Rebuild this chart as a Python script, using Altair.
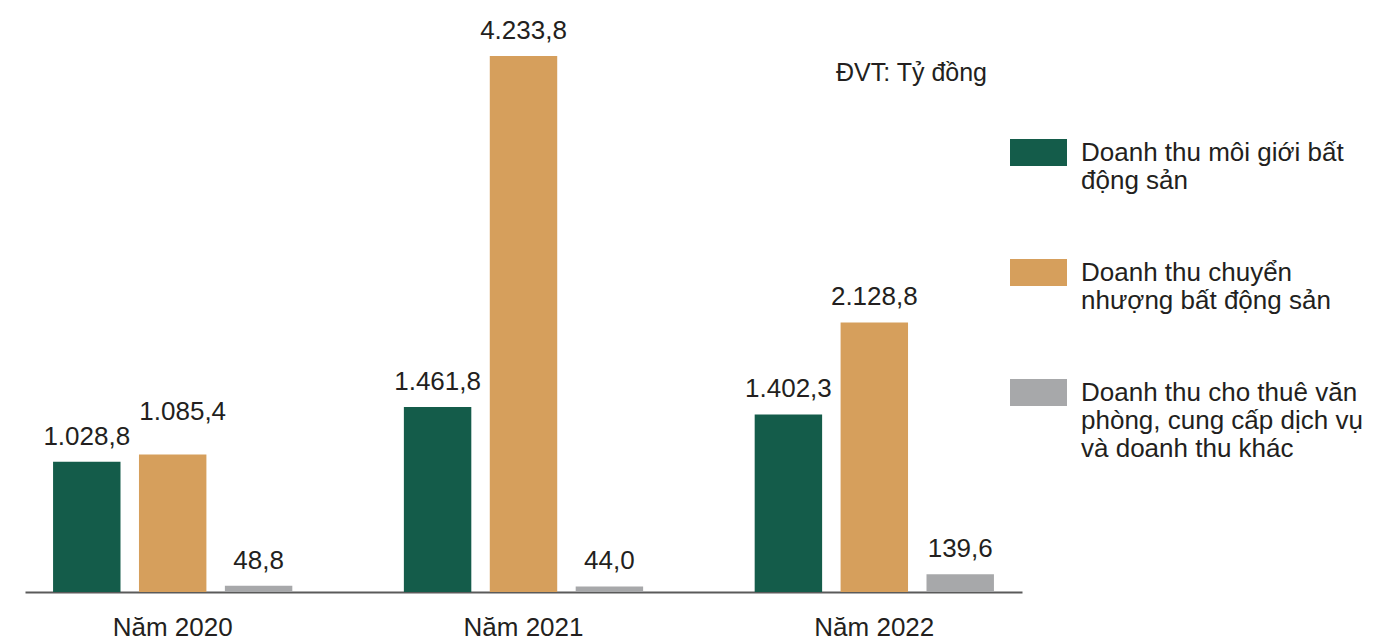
import altair as alt
import pandas as pd

years = ["Năm 2020", "Năm 2021", "Năm 2022"]
series = [
    "Doanh thu môi giới bất\nđộng sản",
    "Doanh thu chuyển\nnhượng bất động sản",
    "Doanh thu cho thuê văn\nphòng, cung cấp dịch vụ\nvà doanh thu khác",
]
moi_gioi = [1028.8, 1461.8, 1402.3]
chuyen_nhuong = [1085.4, 4233.8, 2128.8]
cho_thue = [48.8, 44.0, 139.6]
colors = ["#145c4a", "#d69f5c", "#a7a8aa"]
unit_note = "ĐVT: Tỷ đồng"

FONT = "Liberation Sans"
TEXT_COLOR = "#231f20"


def vn_format(v):
    s = f"{v:,.1f}"
    return s.replace(",", "X").replace(".", ",").replace("X", ".")


rows = []
for vals, name in zip([moi_gioi, chuyen_nhuong, cho_thue], series):
    for yr, v in zip(years, vals):
        rows.append({"year": yr, "series": name, "value": v, "label": vn_format(v)})
df = pd.DataFrame(rows)

x_enc = alt.X(
    "year:N",
    sort=years,
    scale=alt.Scale(paddingInner=0.318, paddingOuter=0.08),
    axis=alt.Axis(
        title=None,
        labelAngle=0,
        ticks=False,
        domainColor="#5a5a5a",
        domainWidth=2,
        labelFont=FONT,
        labelFontSize=26,
        labelColor=TEXT_COLOR,
        labelPadding=22,
        grid=False,
    ),
)
xoff_enc = alt.XOffset(
    "series:N", sort=series, scale=alt.Scale(paddingInner=0.215, paddingOuter=0)
)
y_enc = alt.Y("value:Q", scale=alt.Scale(domain=[0, 4613]), axis=None)

base = alt.Chart(df)

bars = base.mark_bar().encode(
    x=x_enc,
    xOffset=xoff_enc,
    y=y_enc,
    color=alt.Color(
        "series:N",
        scale=alt.Scale(domain=series, range=colors),
        legend=alt.Legend(
            title=None,
            orient="none",
            legendX=985,
            legendY=116,
            symbolType="M-1,-0.474L1,-0.474L1,0.474L-1,0.474Z",
            symbolSize=3249,
            symbolStrokeWidth=0,
            symbolOpacity=1,
            symbolOffset=0,
            labelFont=FONT,
            labelFontSize=26,
            labelColor=TEXT_COLOR,
            labelOffset=14,
            labelLimit=0,
            labelExpr="split(datum.label, '\\n')",
            rowPadding=50,
            padding=0,
        ),
    ),
)

# the 2020 transfer-revenue label sits a little higher and to the right in the original
crowded = (alt.datum.year == years[0]) & (alt.datum.series == series[1])

labels = (
    base.transform_filter(~crowded)
    .mark_text(font=FONT, fontSize=26, baseline="alphabetic", dy=-17, color=TEXT_COLOR)
    .encode(x=x_enc, xOffset=xoff_enc, y=y_enc, text="label:N")
)
labels_shift = (
    base.transform_filter(crowded)
    .mark_text(
        font=FONT, fontSize=26, baseline="alphabetic", dy=-35, dx=10, color=TEXT_COLOR
    )
    .encode(x=x_enc, xOffset=xoff_enc, y=y_enc, text="label:N")
)

note = alt.Chart(pd.DataFrame({"t": [unit_note]})).mark_text(
    font=FONT, fontSize=25, align="left", baseline="middle", color=TEXT_COLOR
).encode(x=alt.value(811), y=alt.value(65), text="t:N")

chart = (
    alt.layer(bars, labels, labels_shift, note)
    .properties(
        width=997,
        height=584,
        padding={"left": 17, "top": 0, "right": 0, "bottom": 0},
    )
    .configure(font=FONT)
    .configure_view(strokeWidth=0, stroke="transparent")
)

chart.save("out.html", embed_options={"renderer": "svg", "actions": False})
